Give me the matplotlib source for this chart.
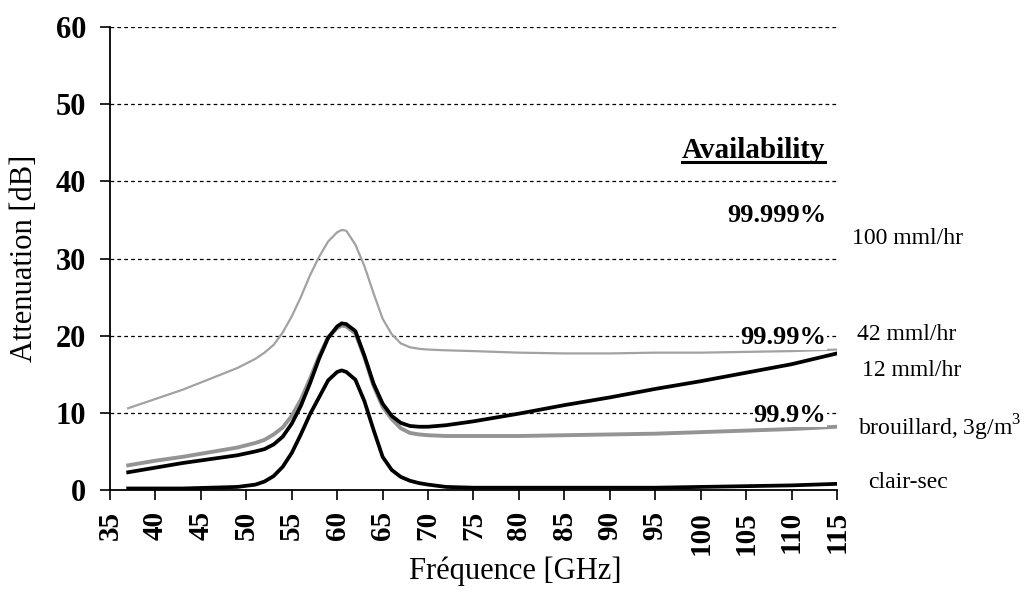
import matplotlib
matplotlib.use("Agg")
import matplotlib.pyplot as plt

# frequency grid (GHz) shared by all curves
freq = [37, 40, 43, 46, 49, 51, 52, 53, 54, 55, 56, 57, 58, 59, 60, 60.5, 61,
        62, 63, 64, 65, 66, 67, 68, 69, 70, 72, 75, 80, 85, 90, 95, 100, 105,
        110, 115]

# attenuation in dB
rain_42 = [10.6, 11.8, 13.0, 14.4, 15.8, 17.0, 17.8, 18.8, 20.4, 22.5, 25.0,
           27.8, 30.2, 32.2, 33.4, 33.7, 33.6, 31.8, 29.0, 25.5, 22.2, 20.2,
           19.0, 18.5, 18.3, 18.2, 18.1, 18.0, 17.8, 17.7, 17.7, 17.8, 17.8,
           17.9, 18.0, 18.2]
rain_12 = [2.3, 2.9, 3.5, 4.0, 4.5, 5.0, 5.3, 5.9, 6.9, 8.6, 10.9, 13.8, 17.0,
           19.7, 21.2, 21.6, 21.5, 20.6, 17.4, 13.8, 11.2, 9.6, 8.7, 8.3, 8.2,
           8.2, 8.4, 8.9, 9.9, 11.0, 12.0, 13.1, 14.1, 15.2, 16.3, 17.7]
fog = [3.2, 3.8, 4.3, 4.9, 5.5, 6.1, 6.5, 7.2, 8.1, 9.6, 11.7, 14.4, 17.3,
       19.8, 21.0, 21.3, 21.2, 20.3, 17.2, 13.5, 10.8, 9.2, 8.0, 7.4, 7.2, 7.1,
       7.0, 7.0, 7.0, 7.1, 7.2, 7.3, 7.5, 7.7, 7.9, 8.2]
clear_dry = [0.2, 0.2, 0.2, 0.3, 0.4, 0.7, 1.1, 1.8, 3.0, 4.8, 7.2, 9.8, 12.0,
             14.2, 15.3, 15.5, 15.3, 14.3, 11.5, 7.8, 4.3, 2.6, 1.7, 1.2, 0.9,
             0.7, 0.4, 0.3, 0.3, 0.3, 0.3, 0.3, 0.4, 0.5, 0.6, 0.8]

x_ticks = list(range(35, 116, 5))
y_ticks = [0, 10, 20, 30, 40, 50, 60]

# availability levels written inside the plot
avail_labels = ["99.999%", "99.99%", "99.9%"]
avail_y = [35.6, 19.8, 9.7]

# curve names written to the right of the plot
curve_names = ["100 mml/hr", "42 mml/hr", "12 mml/hr",
               r"brouillard, 3g/m$^3$", "clair-sec"]
name_y = [32.6, 20.1, 15.5, 8.0, 1.0]
name_x = [116.7, 117.2, 117.7, 117.3, 118.4]

plt.rcParams['font.family'] = ['Liberation Serif', 'DejaVu Serif']
plt.rcParams['mathtext.fontset'] = 'custom'
plt.rcParams['mathtext.rm'] = 'Liberation Serif'

fig = plt.figure(figsize=(10.30, 5.97), dpi=100)
ax = fig.add_axes([0.1068, 0.1792, 0.7058, 0.7756])

ax.plot(freq, rain_42, color="#a2a2a2", lw=1.6, zorder=3)
ax.plot(freq, fog, color="#949494", lw=2.8, zorder=3)
ax.plot(freq, rain_12, color="black", lw=2.7, zorder=4)
ax.plot(freq, clear_dry, color="black", lw=2.7, zorder=4)

ax.set_xlim(35, 115)
ax.set_ylim(0, 60)
ax.set_xticks(x_ticks)
ax.set_yticks(y_ticks)
ax.set_xticklabels([str(t) for t in x_ticks], rotation=90, fontsize=21,
                   fontweight="bold")
ax.set_yticklabels([str(t) for t in y_ticks], fontsize=22, fontweight="bold")
ax.tick_params(axis="y", direction="out", length=7, width=1.2, pad=10)
ax.tick_params(axis="x", direction="out", length=7, width=1.2, pad=8)

for s in ["top", "right"]:
    ax.spines[s].set_visible(False)
for s in ["left", "bottom"]:
    ax.spines[s].set_linewidth(1.3)

# dashed horizontal grid
for yv in y_ticks[1:]:
    ax.axhline(yv, color="black", lw=0.9, ls=(0, (3, 2.5)), zorder=1)

ax.set_xlabel("Fréquence [GHz]", fontsize=22)
ax.xaxis.set_label_coords(0.558, -0.143)
ax.set_ylabel("Attenuation [dB]", fontsize=22)
ax.yaxis.set_label_coords(-0.098, 0.5)

title = ax.text(113.7, 44.0, "Availability", fontsize=21, fontweight="bold",
                ha="right", va="center", zorder=5)
for lbl, yv in zip(avail_labels, avail_y):
    ax.text(113.8, yv, lbl, fontsize=19, fontweight="bold", ha="right",
            va="center", zorder=5,
            bbox=dict(facecolor="white", edgecolor="none", pad=0.5))

for lbl, xv, yv in zip(curve_names, name_x, name_y):
    ax.text(xv, yv, lbl, fontsize=17, ha="left", va="center", clip_on=False)

# underline the "Availability" heading
fig.canvas.draw()
bb = title.get_window_extent().transformed(ax.transData.inverted())
ax.plot([bb.x0, bb.x1], [bb.y0 + 0.2, bb.y0 + 0.2], color="black", lw=2.2,
        clip_on=False, zorder=5)

fig.savefig("out.png", dpi=100)
